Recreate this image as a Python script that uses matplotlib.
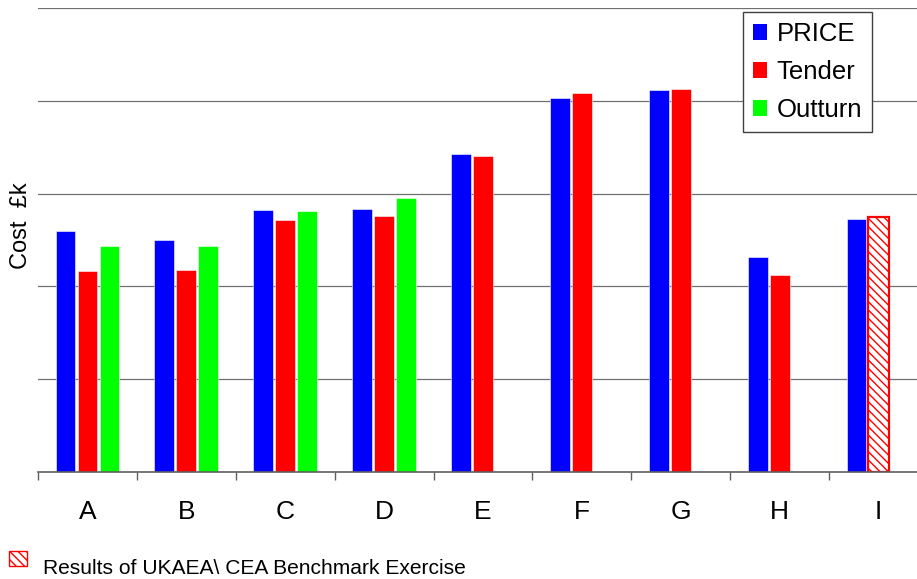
import matplotlib
matplotlib.use("Agg")
import matplotlib.pyplot as plt
from matplotlib.patches import Rectangle, Patch
import numpy as np

plt.rcParams['font.family'] = ['Liberation Sans', 'DejaVu Sans']
plt.rcParams['hatch.linewidth'] = 1.0

# Data (cost, in gridline units)
categories = ['A', 'B', 'C', 'D', 'E', 'F', 'G', 'H', 'I']
price   = [2.60, 2.50, 2.82, 2.83, 3.43, 4.03, 4.12, 2.32, 2.73]
tender  = [2.17, 2.18, 2.72, 2.76, 3.41, 4.08, 4.13, 2.12, 2.75]
outturn = [2.44, 2.43, 2.81, 2.95, None, None, None, None, None]
benchmark = [False, False, False, False, False, False, False, False, True]
series_names = ['PRICE', 'Tender', 'Outturn']
footnote = 'Results of UKAEA\\ CEA Benchmark Exercise'

BLUE, RED, GREEN = '#0000FF', '#FF0000', '#00FF00'
W, H = 917, 579
fig = plt.figure(figsize=(W / 100, H / 100), dpi=100)
ax = fig.add_axes([38 / W, 107 / H, 890 / W, 464 / H])

x = np.arange(len(categories)) + 0.5
step = 0.2224
bw = 0.2

ax.bar(x - step, price, bw, color=BLUE, edgecolor='white', linewidth=0.4, zorder=2)
for xi, v, hb in zip(x, tender, benchmark):
    if hb:
        ax.bar(xi, v, bw + 0.01, color='white', edgecolor=RED, linewidth=1.6,
               hatch='\\\\\\\\', zorder=2)
    else:
        ax.bar(xi, v, bw, color=RED, edgecolor='white', linewidth=0.4, zorder=2)
ox = [xi + step for xi, v in zip(x, outturn) if v is not None]
ov = [v for v in outturn if v is not None]
ax.bar(ox, ov, bw, color=GREEN, edgecolor='white', linewidth=0.4, zorder=2)

ax.set_xlim(0, len(categories))
ax.set_ylim(0, 5)
ax.set_yticks([1, 2, 3, 4, 5])
ax.tick_params(axis='y', left=False, labelleft=False)
ax.yaxis.grid(True, color='#707070', linewidth=0.9)
ax.set_axisbelow(True)

ax.set_xticks(np.arange(len(categories) + 1))
ax.set_xticklabels([])
ax.set_xticks(x, minor=True)
ax.set_xticklabels(categories, minor=True, fontsize=19)
ax.tick_params(axis='x', which='major', length=6, width=1, color='#606060', direction='out')
ax.tick_params(axis='x', which='minor', length=0, pad=20)

for s in ['left', 'right', 'top']:
    ax.spines[s].set_visible(False)
ax.spines['bottom'].set_color('#606060')
ax.spines['bottom'].set_linewidth(1.2)

fig.text(21 / W, 1 - 226 / H, 'Cost  £k', rotation=90, ha='center', va='center', fontsize=17)

handles = [Patch(facecolor=c, edgecolor='none') for c in (BLUE, RED, GREEN)]
leg = ax.legend(handles, series_names, loc='upper left',
                bbox_to_anchor=(743 / W, 1 - 12 / H), bbox_transform=fig.transFigure,
                borderaxespad=0, fontsize=18.5, frameon=True, fancybox=False,
                framealpha=1, edgecolor='#404040', handlelength=0.56,
                handleheight=0.56, handletextpad=0.36, borderpad=0.38,
                labelspacing=0.55)
leg.get_frame().set_linewidth(1.0)

# footnote with hatched swatch
fig.add_artist(Rectangle((9 / W, 13 / H), 18 / W, 15 / H, transform=fig.transFigure,
                         facecolor='white', edgecolor=RED, linewidth=1.0,
                         hatch='\\\\\\\\'))
fig.text(43 / W, 5 / H, footnote, fontsize=15.1, va='baseline', ha='left')

fig.savefig('out.png', dpi=100)
